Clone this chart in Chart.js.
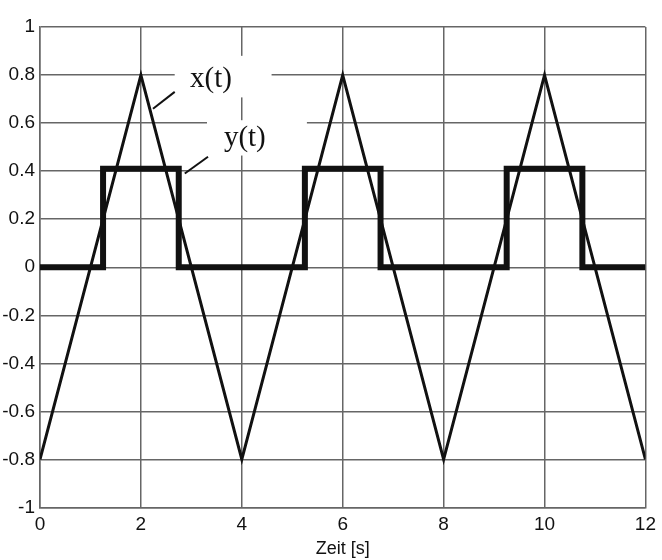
<!DOCTYPE html>
<html>
<head>
<meta charset="utf-8">
<script src="https://cdn.jsdelivr.net/npm/chart.js@4.4.0/dist/chart.umd.min.js"></script>
<style>
    html, body { margin: 0; padding: 0; background: #fff; }
    #wrap { width: 662px; height: 560px; }
</style>
</head>
<body>
<div id="wrap"><canvas id="chart" width="662" height="560"></canvas></div>
<script>
// triangle signal x(t)
const xTimes = [0, 2, 4, 6, 8, 10, 12];
const xValues = [-0.8, 0.8, -0.8, 0.8, -0.8, 0.8, -0.8];

// square signal y(t)
const yTimes = [0, 1.25, 1.25, 2.75, 2.75, 5.25, 5.25, 6.75, 6.75, 9.25, 9.25, 10.75, 10.75, 12];
const yValues = [0, 0, 0.41, 0.41, 0, 0, 0.41, 0.41, 0, 0, 0.41, 0.41, 0, 0];

// axis ticks
const xTicks = [0, 2, 4, 6, 8, 10, 12];
const yTicks = [-1, -0.8, -0.6, -0.4, -0.2, 0, 0.2, 0.4, 0.6, 0.8, 1];
const xTitle = 'Zeit [s]';

// curve labels (in data units): text, label centre, leader line from/to, white box behind
const labelTexts = ['x(t)', 'y(t)'];
const labelAt = [[3.39, 0.78], [4.06, 0.535]];
const leaderFrom = [[2.24, 0.66], [2.87, 0.39]];
const leaderTo = [[2.67, 0.73], [3.33, 0.46]];
const boxFrom = [[2.67, 0.88], [3.31, 0.612]];
const boxTo = [[4.59, 0.707], [5.29, 0.465]];

function toPoints(ts, vs) {
    return ts.map((t, i) => ({ x: t, y: vs[i] }));
}

const gridColor = '#666';

// white boxes under the labels, drawn over the grid
const labelBoxes = {
    id: 'labelBoxes',
    beforeDatasetsDraw(chart) {
        const { ctx, scales: { x, y } } = chart;
        ctx.save();
        ctx.fillStyle = '#fff';
        for (let i = 0; i < boxFrom.length; i++) {
            const x0 = x.getPixelForValue(boxFrom[i][0]);
            const y0 = y.getPixelForValue(boxFrom[i][1]);
            const x1 = x.getPixelForValue(boxTo[i][0]);
            const y1 = y.getPixelForValue(boxTo[i][1]);
            ctx.fillRect(x0, y0, x1 - x0, y1 - y0);
        }
        ctx.restore();
    },
    afterDatasetsDraw(chart) {
        const { ctx, scales: { x, y } } = chart;
        ctx.save();
        ctx.strokeStyle = '#111';
        ctx.lineWidth = 2;
        for (let i = 0; i < leaderFrom.length; i++) {
            ctx.beginPath();
            ctx.moveTo(x.getPixelForValue(leaderFrom[i][0]), y.getPixelForValue(leaderFrom[i][1]));
            ctx.lineTo(x.getPixelForValue(leaderTo[i][0]), y.getPixelForValue(leaderTo[i][1]));
            ctx.stroke();
        }
        ctx.fillStyle = '#111';
        ctx.font = '29px "Liberation Serif", "DejaVu Serif", serif';
        ctx.textAlign = 'center';
        ctx.textBaseline = 'middle';
        for (let i = 0; i < labelTexts.length; i++) {
            ctx.fillText(labelTexts[i], x.getPixelForValue(labelAt[i][0]), y.getPixelForValue(labelAt[i][1]));
        }
        ctx.restore();
    }
};

const ctx = document.getElementById('chart').getContext('2d');
const chart = new Chart(ctx, {
    type: 'scatter',
    data: {
        datasets: [{
            label: 'x(t)',
            data: toPoints(xTimes, xValues),
            showLine: true,
            borderColor: '#111',
            borderWidth: 3,
            pointRadius: 0,
            tension: 0
        }, {
            label: 'y(t)',
            data: toPoints(yTimes, yValues),
            showLine: true,
            borderColor: '#111',
            borderWidth: 6,
            borderJoinStyle: 'miter',
            pointRadius: 0,
            tension: 0
        }]
    },
    options: {
        responsive: false,
        animation: false,
        devicePixelRatio: 1,
        layout: { padding: { top: 27, right: 16, left: 0, bottom: 0 } },
        plugins: {
            legend: { display: false },
            tooltip: { enabled: false }
        },
        scales: {
            x: {
                type: 'linear',
                min: 0,
                max: 12,
                afterBuildTicks: (scale) => { scale.ticks = xTicks.map(v => ({ value: v })); },
                afterFit: (scale) => { scale.height = 52.5; },
                grid: { color: gridColor, lineWidth: 1.5, drawTicks: false },
                border: { color: gridColor, width: 1.5 },
                ticks: {
                    color: '#111',
                    padding: 6,
                    maxRotation: 0,
                    font: { family: '"Liberation Sans", Arial, sans-serif', size: 19 },
                    callback: (v) => String(v)
                },
                title: {
                    display: true,
                    text: xTitle,
                    color: '#111',
                    padding: { top: 0, bottom: 0 },
                    font: { family: '"Liberation Sans", Arial, sans-serif', size: 18 }
                }
            },
            y: {
                type: 'linear',
                min: -1,
                max: 1,
                afterBuildTicks: (scale) => { scale.ticks = yTicks.map(v => ({ value: v })); },
                afterFit: (scale) => { scale.width = 40; },
                grid: { color: gridColor, lineWidth: 1.5, drawTicks: false },
                border: { color: gridColor, width: 1.5 },
                ticks: {
                    color: '#111',
                    padding: 5,
                    font: { family: '"Liberation Sans", Arial, sans-serif', size: 19 },
                    callback: (v) => String(Math.round(v * 10) / 10)
                }
            }
        }
    },
    plugins: [labelBoxes]
});
</script>
</body>
</html>
